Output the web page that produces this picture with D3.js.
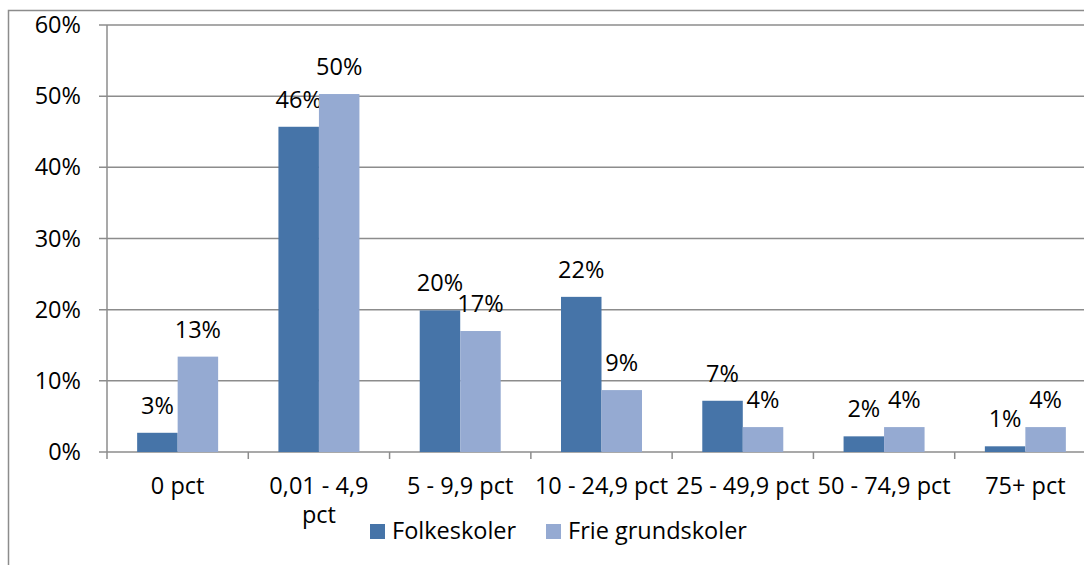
<!DOCTYPE html>
<html>
<head>
<meta charset="utf-8">
<script src="https://cdn.jsdelivr.net/npm/d3@7"></script>
<style>
  body { margin: 0; background: #fff; }
  svg { display: block; font-family: "Open Sans", sans-serif; }
  .grid line { stroke: #8c8c8c; stroke-width: 1.5; }
  .label { font-size: 23.5px; fill: #000; }
</style>
</head>
<body>
<div id="chart"></div>
<script>
// values in percent
const categories = ["0 pct", "0,01 - 4,9 pct", "5 - 9,9 pct", "10 - 24,9 pct", "25 - 49,9 pct", "50 - 74,9 pct", "75+ pct"];
const folkeskoler = [2.7, 45.7, 19.9, 21.8, 7.2, 2.2, 0.8];
const frieGrundskoler = [13.4, 50.3, 17.0, 8.7, 3.5, 3.5, 3.5];
const seriesNames = ["Folkeskoler", "Frie grundskoler"];
const yTicks = [0, 10, 20, 30, 40, 50, 60];

const width = 1084, height = 565;
const margin = { top: 25, left: 107, bottom: 452, right: 1096 };
const colors = ["#4674a8", "#95aad2"];

const svg = d3.select("#chart")
  .append("svg")
  .attr("width", width)
  .attr("height", height);

// chart border (runs off the right and bottom edges)
svg.append("rect")
  .attr("x", 8.5)
  .attr("y", 10.5)
  .attr("width", 1200)
  .attr("height", 700)
  .attr("fill", "none")
  .attr("stroke", "#8c8c8c")
  .attr("stroke-width", 1.5);

const x = d3.scaleBand()
  .domain(categories)
  .range([margin.left, margin.right]);

const y = d3.scaleLinear()
  .domain([0, 60])
  .range([margin.bottom, margin.top]);

// gridlines + y labels
const grid = svg.append("g").attr("class", "grid");
grid.selectAll("line")
  .data(yTicks)
  .enter()
  .append("line")
    .attr("x1", margin.left - 8)
    .attr("x2", margin.right)
    .attr("y1", d => y(d))
    .attr("y2", d => y(d));

svg.append("g").selectAll("text")
  .data(yTicks)
  .enter()
  .append("text")
    .attr("class", "label")
    .attr("x", 81)
    .attr("y", d => y(d) + 8)
    .attr("text-anchor", "end")
    .text(d => d + "%");

// bars
const barW = 40.5;
const groups = svg.append("g").selectAll("g")
  .data(categories)
  .enter()
  .append("g")
    .attr("transform", d => `translate(${x(d) + (x.bandwidth() - 2 * barW) / 2},0)`);

[folkeskoler, frieGrundskoler].forEach((series, s) => {
  groups.append("rect")
    .attr("x", s * barW)
    .attr("y", (d, i) => y(series[i]))
    .attr("width", barW)
    .attr("height", (d, i) => y(0) - y(series[i]))
    .attr("fill", colors[s]);

  groups.append("text")
    .attr("class", "label")
    .attr("x", s * barW + barW / 2)
    .attr("y", (d, i) => y(series[i]) - 19)
    .attr("text-anchor", "middle")
    .text((d, i) => Math.round(series[i]) + "%");
});

// axes lines
svg.append("line")
  .attr("x1", margin.left).attr("x2", margin.left)
  .attr("y1", margin.top).attr("y2", margin.bottom + 7)
  .attr("stroke", "#8c8c8c").attr("stroke-width", 1.5);

svg.append("g").selectAll("line")
  .data(categories.slice(1))
  .enter()
  .append("line")
    .attr("x1", d => x(d)).attr("x2", d => x(d))
    .attr("y1", margin.bottom).attr("y2", margin.bottom + 7)
    .attr("stroke", "#8c8c8c").attr("stroke-width", 1.5);

// category labels, wrapped when they do not fit (excel keeps some padding)
const maxLabelW = x.bandwidth() - 5;
const catText = svg.append("g").selectAll("text")
  .data(categories)
  .enter()
  .append("text")
    .attr("class", "label")
    .attr("text-anchor", "middle")
    .attr("y", 494);

catText.each(function (d) {
  const t = d3.select(this);
  const cx = x(d) + x.bandwidth() / 2;
  t.append("tspan").attr("x", cx).text(d);
  if (this.getComputedTextLength() > maxLabelW) {
    const words = d.split(" ");
    const last = words.pop();
    t.text(null);
    t.append("tspan").attr("x", cx).text(words.join(" "));
    t.append("tspan").attr("x", cx).attr("dy", 29).text(last);
  }
});

// legend
const legendX = [370, 546];
const legend = svg.append("g").selectAll("g")
  .data(seriesNames)
  .enter()
  .append("g")
    .attr("transform", (d, i) => `translate(${legendX[i]},524)`);

legend.append("rect")
  .attr("width", 15)
  .attr("height", 15)
  .attr("fill", (d, i) => colors[i]);

legend.append("text")
  .attr("class", "label")
  .attr("x", 22)
  .attr("y", 15)
  .text(d => d);
</script>
</body>
</html>
